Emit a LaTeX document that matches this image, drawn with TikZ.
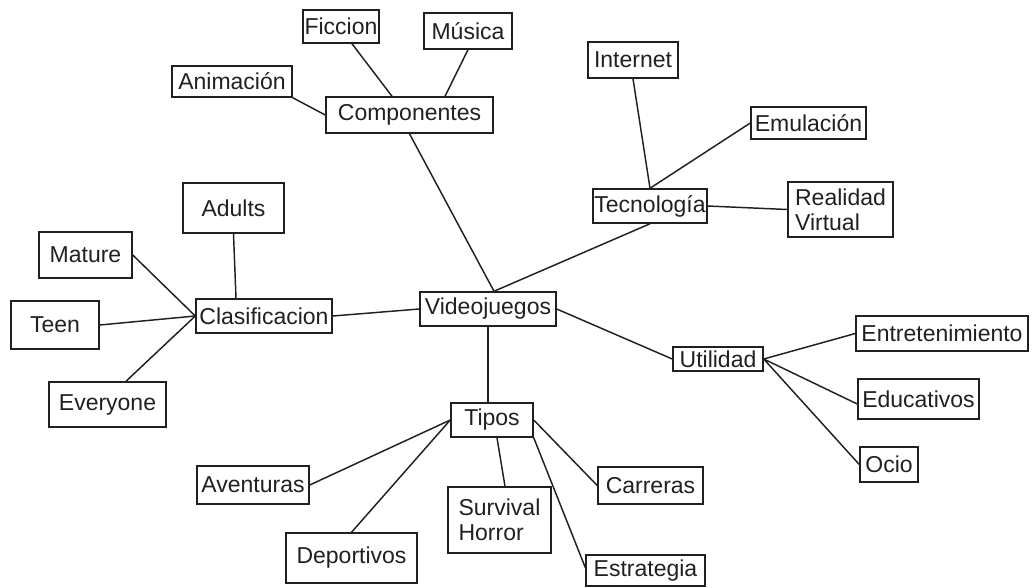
\documentclass[tikz,border=0pt]{standalone}
\usepackage{fontspec}
\setmainfont{Liberation Sans}
\usetikzlibrary{calc}
\definecolor{ink}{HTML}{231F20}
\tikzset{
  bx/.style 2 args={draw=ink, line width=1.1pt, inner sep=0pt, text=ink,
    minimum width=#1*0.75pt, minimum height=#2*0.75pt,
    font=\fontsize{17.25}{19}\selectfont, align=left},
  con/.style={draw=ink, line width=1.1pt}
}
\begin{document}
\begin{tikzpicture}[x=0.75pt,y=-0.75pt]
\useasboundingbox (0,0) rectangle (1032,587);
% nodes
\node[bx={76}{33}]  (fic)    at (341,26.5)  {Ficcion};
\node[bx={88}{36}]  (mus)    at (468,31)    {Música};
\node[bx={120}{31}] (anim)   at (232,81.5)  {Animación};
\node[bx={167}{36}] (comp)   at (409.5,115) {Componentes};
\node[bx={90}{36}]  (int)    at (633,60)    {Internet};
\node[bx={115}{32}] (emu)    at (808.5,123) {Emulación};
\node[bx={114}{34}] (tec)    at (650,206)   {Tecnología};
\node[bx={105}{55}] (rv)     at (840.5,209.5) {Realidad\\Virtual};
\node[bx={101}{50}] (adults) at (233.5,208) {Adults};
\node[bx={93}{46}]  (mature) at (85.5,255)  {Mature};
\node[bx={88}{48}]  (teen)   at (55,325)    {Teen};
\node[bx={136}{34}] (clas)   at (264,316)   {Clasificacion};
\node[bx={117}{45}] (every)  at (107.5,404.5) {Everyone};
\node[bx={136}{34}] (vid)    at (488,309)   {Videojuegos};
\node[bx={82}{34}]  (tipos)  at (492,420)   {Tipos};
\node[bx={90}{24}]  (util)   at (718,359)   {Utilidad};
\node[bx={172}{35}] (ent)    at (942,333.5) {Entretenimiento};
\node[bx={121}{40}] (edu)    at (918.5,399) {Educativos};
\node[bx={58}{35}]  (ocio)   at (889,464.5) {Ocio};
\node[bx={112}{38}] (avent)  at (253,485)   {Aventuras};
\node[bx={131}{50}] (dep)    at (351.5,558) {\raisebox{-8pt}{Deportivos}};
\node[bx={103}{66}] (sh)     at (499.5,520) {Survival\\Horror};
\node[bx={105}{37}] (carr)   at (650.5,485.5) {Carreras};
\node[bx={119}{31}] (est)    at (645.5,570.5) {Estrategia};
% connectors
\coordinate (vtop) at ($(vid.north)+(6,0)$);
\draw[con] (anim.south east) -- (comp.west);
\draw[con] ($(fic.south)+(11,0)$) -- ($(comp.north)+(-17.5,0)$);
\draw[con] (mus.south) -- ($(comp.north)+(35.5,0)$);
\draw[con] (comp.south) -- (vtop);
\draw[con] (tec.south) -- (vtop);
\draw[con] (int.south) -- (tec.north);
\draw[con] (emu.west) -- (tec.north);
\draw[con] (tec.east) -- (rv.west);
\draw[con] (clas.east) -- (vid.west);
\draw[con] (adults.south) -- ($(clas.north)+(-28,0)$);
\draw[con] (mature.east) -- (clas.west);
\draw[con] (teen.east) -- (clas.west);
\draw[con] ($(every.north)+(18.5,0)$) -- (clas.west);
\draw[con] (vid.south) -- (vid.south |- tipos.north);
\draw[con] (vid.east) -- (util.west);
\draw[con] (util.east) -- (ent.west);
\draw[con] (util.east) -- ($(edu.west)+(0,5)$);
\draw[con] (util.east) -- (ocio.west);
\draw[con] (tipos.west) -- (avent.east);
\draw[con] (tipos.west) -- (dep.north);
\draw[con] ($(tipos.south)+(5,0)$) -- ($(sh.north)+(5.5,0)$);
\draw[con] (tipos.east) -- (carr.west);
\draw[con] (tipos.south east) -- ($(est.west)+(0,-3)$);
\end{tikzpicture}
\end{document}
